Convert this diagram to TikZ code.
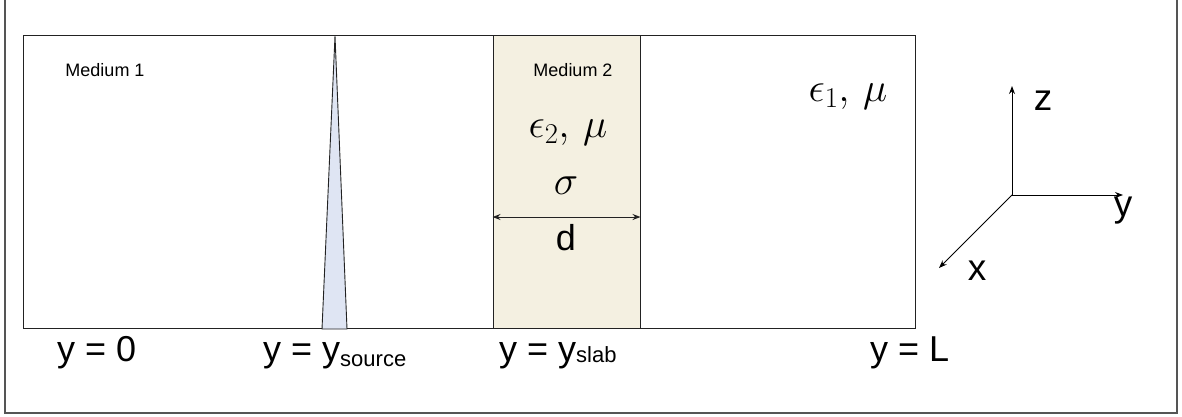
\documentclass[tikz,border=0pt]{standalone}
\usepackage{fix-cm}
\usepackage{fontspec}
\setmainfont{Liberation Sans}
\usetikzlibrary{arrows.meta}
\definecolor{framegray}{HTML}{555555}
\definecolor{slabfill}{HTML}{F4F0E1}
\definecolor{srcfill}{HTML}{DFE5F3}
\definecolor{edge}{HTML}{222222}
\newcommand{\fs}[1]{\fontsize{#1}{#1}\selectfont}
\tikzset{
  box/.style={draw=edge, line width=1pt, inner sep=0pt, minimum height=293pt},
  small/.style={font=\fs{18}, inner sep=0pt},
  big/.style={font=\fs{36}, inner sep=0pt},
  greek/.style={font=\fs{41}, inner sep=0pt},
  axlabel/.style={font=\fs{37}, inner sep=0pt},
  axis/.style={draw=black, line width=1pt, -{Stealth[length=8pt,width=6pt]}},
  dim/.style={draw=edge, line width=1pt, {Stealth[length=8pt,width=6pt]}-{Stealth[length=8pt,width=6pt]}},
}
\begin{document}
\begin{tikzpicture}[x=1pt,y=-1pt]
\useasboundingbox (0,0) rectangle (1182,416);
% outer frame (top edge lies above the picture)
\draw[framegray, line width=1.3pt] (5,-3) -- (5,413) -- (1177,413) -- (1177,-3);
% domain
\node[box, minimum width=892pt] (dom) at (469,181.5) {};
% slab
\node[box, fill=slabfill, minimum width=147pt] (slab) at (566.5,181.5) {};
% source
\coordinate (srcL) at (322,329);
\coordinate (srcT) at (335,36);
\coordinate (srcR) at (347,329);
\draw[edge, line width=0.9pt, fill=srcfill] (srcL) -- (srcT) -- (srcR) -- cycle;
% texts
\node[small] (m1) at (105,70) {Medium 1};
\node[small] (m2) at (573,70) {Medium 2};
\node[greek] (e2) at (568,133) {$\epsilon_2,\,\mu$};
\node[greek] (sg) at (566,186) {$\sigma$};
\node[greek] (e1) at (848,97) {$\epsilon_1,\,\mu$};
% slab width
\coordinate (dL) at (slab.west |- 0,217);
\coordinate (dR) at (slab.east |- 0,217);
\draw[dim] (dL) -- (dR);
\node[big] (d) at (566,238) {d};
% bottom labels
\node[big, anchor=base west] (y0) at (57,361) {y = 0};
\node[big, anchor=base west] (ys) at (263,361) {y = y\raisebox{-5pt}{\fs{22}source}};
\node[big, anchor=base west] (yb) at (499,361) {y = y\raisebox{-1pt}{\fs{22}slab}};
\node[big, anchor=base west] (yL) at (870,361) {y = L};
% axes
\coordinate (O) at (1012,195);
\coordinate (Z) at (1012,86);
\coordinate (Y) at (1123,195);
\coordinate (X) at (939,268);
\draw[axis] (O) -- (Z);
\draw[axis] (O) -- (Y);
\draw[axis] (O) -- (X);
\node[axlabel] (zl) at (1043,101) {z};
\node[axlabel] (yl) at (1123,211) {y};
\node[axlabel] (xl) at (977,271) {x};
\end{tikzpicture}
\end{document}
